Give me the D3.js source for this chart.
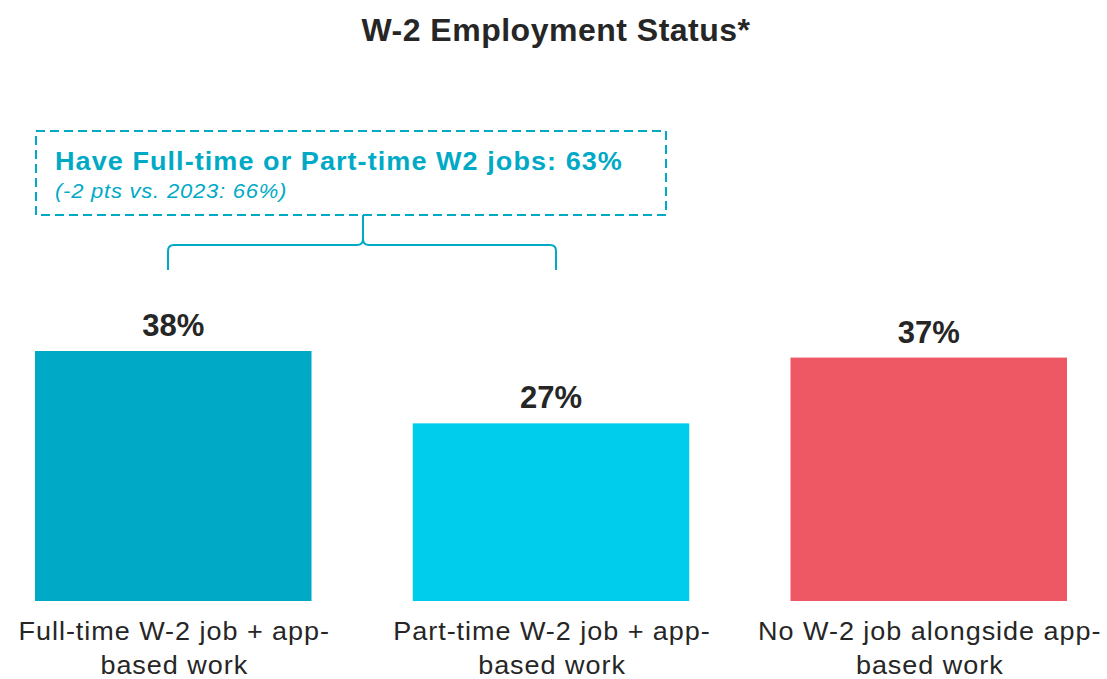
<!DOCTYPE html>
<html>
<head>
<meta charset="utf-8">
<script src="https://cdn.jsdelivr.net/npm/d3@7"></script>
<style>
  body { margin: 0; background: #fff; }
  text { font-family: "Liberation Sans", Arial, sans-serif; }
</style>
</head>
<body>
<script>
// chart data
const categories = ["Full-time W-2 job + app-based work", "Part-time W-2 job + app-based work", "No W-2 job alongside app-based work"];
const labelLines = [["Full-time W-2 job + app-", "based work"], ["Part-time W-2 job + app-", "based work"], ["No W-2 job alongside app-", "based work"]];
const values = [38, 27, 37];
const colors = ["#00aac6", "#00cdeb", "#ee5764"];
const calloutTitle = "Have Full-time or Part-time W2 jobs: 63%";
const calloutSub = "(-2 pts vs. 2023: 66%)";

const W = 1107, H = 679;
const stretch = 1.08; // the source text is a little wide

const svg = d3.select("body").append("svg")
  .attr("width", W).attr("height", H);

// bars of ~277px starting at 35
const xs = d3.scaleBand()
  .domain(categories)
  .range([35, 1067])
  .paddingInner(0.268);

const y = d3.scaleLinear()
  .domain([0, 38])
  .range([601, 351]);

// title
svg.append("text")
  .attr("x", 556).attr("y", 41)
  .attr("text-anchor", "middle")
  .attr("font-size", 32).attr("font-weight", "bold")
  .attr("letter-spacing", 0.5)
  .attr("fill", "#262626")
  .text("W-2 Employment Status*");

// bars
svg.selectAll("rect.bar")
  .data(values)
  .enter().append("rect")
  .attr("class", "bar")
  .attr("x", (d, i) => xs(categories[i]))
  .attr("y", d => y(d))
  .attr("width", xs.bandwidth())
  .attr("height", d => y(0) - y(d))
  .attr("fill", (d, i) => colors[i]);

// value labels
svg.selectAll("text.val")
  .data(values)
  .enter().append("text")
  .attr("class", "val")
  .attr("x", (d, i) => xs(categories[i]) + xs.bandwidth() / 2)
  .attr("y", d => y(d) - 15)
  .attr("text-anchor", "middle")
  .attr("font-size", 31).attr("font-weight", "bold")
  .attr("fill", "#262626")
  .text(d => d + "%");

// category labels
const cat = svg.selectAll("text.cat")
  .data(labelLines)
  .enter().append("text")
  .attr("class", "cat")
  .attr("transform", (d, i) => `translate(${xs(categories[i]) + xs.bandwidth() / 2 + 1},640) scale(${stretch},1)`)
  .attr("text-anchor", "middle")
  .attr("font-size", 25)
  .attr("letter-spacing", 0.9)
  .attr("fill", "#262626");
cat.selectAll("tspan")
  .data(d => d)
  .enter().append("tspan")
  .attr("x", 0)
  .attr("y", (d, j) => j * 34)
  .text(d => d);

// callout box
const accent = "#00aac6";
svg.append("rect")
  .attr("x", 36).attr("y", 131)
  .attr("width", 630).attr("height", 84)
  .attr("fill", "none")
  .attr("stroke", accent).attr("stroke-width", 2)
  .attr("stroke-dasharray", "9,5");

svg.append("text")
  .attr("transform", `translate(55,170) scale(${stretch},1)`)
  .attr("font-size", 25).attr("font-weight", "bold")
  .attr("letter-spacing", 1)
  .attr("fill", accent)
  .text(calloutTitle);

svg.append("text")
  .attr("transform", `translate(55,198) scale(1.1,1)`)
  .attr("font-size", 20).attr("font-style", "italic")
  .attr("letter-spacing", 0.7)
  .attr("fill", accent)
  .text(calloutSub);

// brace spanning the first two bars
const bx0 = 168, bx1 = 556, bm = 363, by = 245, r = 6;
const brace = d3.path();
brace.moveTo(bx0, 270);
brace.lineTo(bx0, by + r);
brace.quadraticCurveTo(bx0, by, bx0 + r, by);
brace.lineTo(bm - r, by);
brace.quadraticCurveTo(bm, by, bm, by - r);
brace.lineTo(bm, 215);
brace.moveTo(bm, by - r);
brace.quadraticCurveTo(bm, by, bm + r, by);
brace.lineTo(bx1 - r, by);
brace.quadraticCurveTo(bx1, by, bx1, by + r);
brace.lineTo(bx1, 270);
svg.append("path")
  .attr("d", brace.toString())
  .attr("fill", "none")
  .attr("stroke", accent).attr("stroke-width", 2);
</script>
</body>
</html>
